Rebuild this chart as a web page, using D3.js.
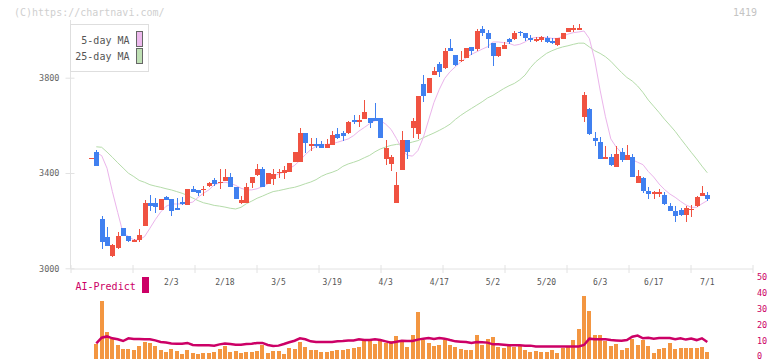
<!DOCTYPE html>
<html lang="ja">
<head>
  <meta charset="utf-8">
  <title>1419 chart</title>
  <script src="https://d3js.org/d3.v7.min.js"></script>
  <style>
    body { margin: 0; background: #fff; }
    svg text { font-family: "DejaVu Sans Mono", monospace; }
  </style>
</head>
<body>
<div id="chart"></div>

<script>
"use strict"

// trading days shown (1/10 .. 7/1)
var dates = ["1/10","1/14","1/15","1/16","1/17","1/20","1/21","1/22","1/23","1/24","1/27","1/28","1/29","1/30","1/31",
  "2/3","2/4","2/5","2/6","2/7","2/10","2/12","2/13","2/14","2/17","2/18","2/19","2/20","2/21","2/25","2/26","2/27","2/28",
  "3/3","3/4","3/5","3/6","3/7","3/10","3/11","3/12","3/13","3/14","3/17","3/18","3/19","3/21","3/24","3/25","3/26","3/27","3/28","3/31",
  "4/1","4/2","4/3","4/4","4/7","4/8","4/9","4/10","4/11","4/14","4/15","4/16","4/17","4/18","4/21","4/22","4/23","4/24","4/25","4/28","4/30",
  "5/1","5/2","5/7","5/8","5/9","5/12","5/13","5/14","5/15","5/16","5/19","5/20","5/21","5/22","5/23","5/26","5/27","5/28","5/29","5/30",
  "6/2","6/3","6/4","6/5","6/6","6/9","6/10","6/11","6/12","6/13","6/16","6/17","6/18","6/19","6/20","6/23","6/24","6/25","6/26","6/27","6/30",
  "7/1"];

var dateLabels = ["2/3","2/18","3/5","3/19","4/3","4/17","5/2","5/20","6/3","6/17","7/1"];

// one row per month
var open = [3463,3488,3207,3131,3053,3084,3169,3136,3112,3120,3179,3275,3275,3245,3301,
  3291,3254,3280,3266,3331,3329,3329,3347,3371,3359,3368,3385,3342,3273,3275,3359,3391,3417,
  3352,3375,3403,3401,3406,3447,3447,3566,3519,3522,3522,3506,3517,3563,3569,3569,3624,3615,3628,3631,
  3631,3631,3460,3439,3275,3414,3538,3590,3565,3773,3734,3811,3859,3839,3924,3896,3872,3884,3930,3920,4004,
  3986,3947,3891,3920,3962,3962,3993,3986,3965,3959,3958,3965,3955,3937,3962,3993,4006,4006,3636,3668,
  3548,3530,3465,3467,3427,3488,3456,3467,3359,3378,3324,3318,3317,3308,3261,3241,3245,3224,3248,3261,3305,
  3308];
var high = [3464,3496,3218,3173,3102,3152,3169,3136,3122,3165,3287,3309,3296,3291,3305,
  3291,3296,3301,3333,3347,3329,3347,3364,3380,3418,3417,3398,3342,3305,3356,3385,3438,3427,
  3399,3417,3417,3431,3443,3490,3590,3566,3547,3547,3533,3543,3576,3587,3578,3618,3643,3643,3706,3631,
  3692,3631,3538,3475,3403,3576,3538,3631,3723,3811,3798,3845,3866,3923,3962,3896,3912,3924,3930,4004,4018,
  4000,3947,3930,3948,3968,3997,3997,3986,3979,3972,3975,3975,3965,3965,3986,4007,4021,4025,3741,3674,
  3571,3552,3513,3480,3513,3506,3517,3480,3413,3382,3342,3326,3333,3322,3273,3261,3252,3263,3266,3303,3345,
  3319];
var low = [3463,3430,3081,3095,3049,3081,3137,3112,3109,3109,3179,3242,3233,3245,3285,
  3221,3246,3266,3266,3319,3305,3305,3342,3347,3333,3368,3342,3291,3268,3275,3338,3387,3342,
  3352,3351,3377,3373,3406,3447,3447,3485,3494,3506,3503,3503,3517,3543,3536,3565,3605,3594,3628,3590,
  3620,3546,3435,3410,3273,3414,3457,3548,3541,3699,3734,3811,3804,3836,3913,3850,3864,3884,3895,3913,3976,
  3923,3850,3888,3920,3941,3958,3976,3955,3951,3948,3951,3947,3940,3934,3962,3993,3993,4004,3615,3559,
  3515,3460,3464,3431,3427,3447,3456,3385,3357,3317,3292,3292,3301,3266,3241,3196,3220,3196,3217,3259,3305,
  3282];
var close = [3464,3430,3112,3095,3098,3136,3137,3116,3119,3140,3275,3263,3259,3291,3287,
  3242,3246,3271,3333,3319,3315,3333,3359,3354,3364,3385,3342,3291,3287,3342,3385,3417,3342,
  3399,3396,3406,3413,3443,3488,3566,3527,3521,3513,3506,3522,3559,3548,3557,3615,3615,3624,3656,3611,
  3620,3548,3505,3468,3350,3538,3489,3618,3723,3724,3798,3828,3825,3912,3913,3853,3875,3924,3913,3996,3989,
  3962,3892,3927,3937,3948,3989,3986,3965,3958,3961,3969,3951,3947,3965,3986,4007,4008,4008,3727,3563,
  3536,3460,3467,3435,3480,3456,3475,3385,3387,3324,3312,3320,3319,3271,3241,3220,3224,3252,3250,3301,3317,
  3291];

var ma5 = [null,3485,3473,3420,3322,3234,3147,3134,3119,3120,3133,3168,3204,3236,3260,
  3270,3270,3270,3273,3278,3298,3315,3329,3350,3359,3361,3357,3348,3336,3329,3329,3334,3343,
  3354,3387,3396,3404,3418,3432,3453,3477,3498,3512,3516,3520,3523,3529,3536,3543,3557,3576,3591,3607,
  3620,3620,3605,3583,3545,3503,3474,3471,3494,3548,3622,3696,3751,3797,3825,3846,3866,3884,3898,3909,3920,
  3930,3950,3950,3947,3944,3936,3940,3950,3965,3969,3969,3969,3965,3965,3973,3983,3989,3992,3996,3964,
  3874,3748,3636,3543,3509,3485,3470,3456,3445,3435,3406,3383,3354,3331,3312,3298,3281,3266,3256,3256,3271,
  3284];
var ma25 = [null,3510,3508,3488,3466,3443,3421,3399,3385,3369,3361,3351,3345,3340,3334,
  3329,3322,3315,3306,3295,3284,3275,3270,3264,3261,3257,3252,3249,3256,3271,3282,3294,3303,
  3313,3322,3326,3331,3336,3340,3347,3355,3362,3372,3386,3396,3403,3412,3428,3438,3445,3453,3464,3474,
  3489,3501,3509,3516,3520,3522,3524,3530,3536,3548,3558,3568,3579,3591,3605,3625,3642,3657,3671,3685,3699,
  3715,3726,3740,3754,3766,3776,3791,3811,3842,3867,3885,3902,3913,3922,3929,3934,3940,3945,3945,3929,
  3913,3902,3888,3869,3845,3822,3801,3786,3765,3738,3706,3680,3654,3626,3601,3575,3545,3516,3487,3459,3429,
  3401];

// volume (drawn on the right-hand scale) and AI-Predict line
var volume = [null,8.4,35.9,16.2,11.6,8.0,5.5,5.5,4.8,7.4,10.1,9.3,7.4,4.8,3.6,
  5.5,4.2,2.3,4.8,3.0,2.3,3.0,3.0,3.6,5.5,7.4,3.6,4.2,3.0,3.6,3.6,4.2,8.0,
  3.0,4.2,4.2,2.3,6.1,5.5,9.9,6.7,4.8,4.8,3.6,3.6,4.2,4.8,4.8,5.5,6.1,6.7,10.5,10.5,
  8.6,10.5,9.5,10.5,13.7,10.1,6.5,14.1,28.8,11.1,9.0,7.4,8.0,11.4,8.0,6.5,5.3,4.8,4.8,14.1,8.0,
  11.8,13.0,6.5,5.9,7.4,6.5,7.4,4.8,3.8,4.2,3.6,3.6,4.8,3.0,6.1,6.9,11.1,18.1,39.1,29.4,
  14.1,14.1,10.3,7.6,8.6,4.8,6.1,11.8,8.0,11.1,7.4,3.0,5.7,6.1,9.0,5.5,6.1,6.1,6.1,6.1,6.7,
  3.6];
var aiPredict = [null,9.0,12.6,13.4,12.2,11.6,10.5,12.2,11.8,11.8,11.6,11.6,10.9,9.9,9.5,
  9.0,8.8,8.8,9.3,8.0,7.8,7.8,7.8,7.6,8.4,9.0,8.6,8.2,8.2,8.6,8.8,9.3,9.3,
  8.0,7.4,7.6,8.6,9.7,10.7,12.2,11.6,10.3,9.9,9.9,9.9,9.9,10.3,10.5,10.9,10.9,11.6,11.1,11.1,
  11.6,11.1,10.3,9.5,10.1,10.7,10.5,10.5,11.4,12.0,12.4,11.8,12.4,12.0,11.1,10.3,10.1,9.9,9.3,9.9,9.7,
  9.5,8.4,8.4,8.2,7.8,7.8,7.8,7.6,7.6,7.1,7.1,7.1,7.1,7.1,7.1,7.1,7.1,7.1,8.0,12.0,
  11.6,11.6,11.6,11.1,10.9,10.7,11.1,13.2,13.9,12.2,12.6,12.0,12.4,12.4,12.4,11.6,12.2,11.4,12.0,11.1,12.2,
  9.9];

var W = 772, H = 361;
var RED = "#f05241", BLUE = "#4080f0", MAGENTA = "#cc0066";

var svg = d3.select("#chart").append("svg")
  .attr("width", W).attr("height", H)
  .style("display", "block");

// scales
var x = d3.scalePoint().domain(dates).range([90.94, 707.3]);
var y = d3.scaleLinear().domain([3000, 3800]).range([268.3, 77.7]);
var yv = d3.scaleLinear().domain([0, 50]).range([357.7, 278.3]);
var frame = d3.scaleLinear().domain([0, 11]).range([70.5, 752.5]);

var rows = dates.map(function(d, i) {
  return {date: d, o: open[i], h: high[i], l: low[i], c: close[i],
          ma5: ma5[i], ma25: ma25[i], vol: volume[i], ai: aiPredict[i]};
});

// watermark and code
svg.append("text").attr("x", 14).attr("y", 16)
  .style("font-size", "10px").style("fill", "#cfcfcf")
  .text("(C)https://chartnavi.com/");
svg.append("text").attr("x", 757).attr("y", 16).attr("text-anchor", "end")
  .style("font-size", "10px").style("fill", "#c4c4c4")
  .text("1419");

// y axis (price)
svg.append("line").attr("x1", 70.5).attr("x2", 70.5).attr("y1", 20).attr("y2", 269)
  .style("stroke", "#e2e2e2");
var yAxis = svg.append("g").attr("transform", "translate(70.5,0)")
  .call(d3.axisLeft(y).tickValues([3000, 3400, 3800]).tickSize(5).tickPadding(6).tickFormat(d3.format("d")));
yAxis.select(".domain").remove();
yAxis.selectAll(".tick line").attr("x1", 4).attr("x2", -5).style("stroke", "#e2e2e2");
yAxis.selectAll(".tick text").style("font-size", "8.5px").style("fill", "#666")
  .style("font-family", "DejaVu Sans Mono, monospace");

// x axis frame with fixed tick spacing
var xAxis = svg.append("g").attr("transform", "translate(0,268.5)")
  .call(d3.axisBottom(frame).tickValues(d3.range(0, 12)).tickFormat("").tickSize(4).tickSizeOuter(0));
xAxis.select(".domain").style("stroke", "#e2e2e2");
xAxis.selectAll(".tick line").attr("y1", -3.5).attr("y2", 4.5).style("stroke", "#e2e2e2");

// date labels
svg.append("g").selectAll("text").data(dateLabels).enter().append("text")
  .attr("x", function(d) { return x(d); })
  .attr("y", 285)
  .attr("text-anchor", "middle")
  .style("font-size", "8px").style("fill", "#555")
  .text(function(d) { return d; });

// moving averages
var line = function(key) {
  return d3.line().defined(function(d) { return d[key] != null; })
    .x(function(d) { return x(d.date); })
    .y(function(d) { return y(d[key]); });
};
svg.append("path").datum(rows).attr("d", line("ma25"))
  .style("fill", "none").style("stroke", "#b5dcaa").style("stroke-width", 1);
svg.append("path").datum(rows).attr("d", line("ma5"))
  .style("fill", "none").style("stroke", "#ebb4eb").style("stroke-width", 1);

// candles
var candle = svg.append("g").selectAll("g").data(rows).enter().append("g")
  .style("shape-rendering", "crispEdges");
candle.append("line")
  .attr("x1", function(d) { return Math.round(x(d.date)) + 0.5; })
  .attr("x2", function(d) { return Math.round(x(d.date)) + 0.5; })
  .attr("y1", function(d) { return y(d.h); })
  .attr("y2", function(d) { return y(d.l); })
  .style("stroke", function(d) { return d.c >= d.o ? RED : BLUE; });
candle.append("rect")
  .attr("x", function(d) { return Math.round(x(d.date)) - 2; })
  .attr("width", 5)
  .attr("y", function(d) { return y(Math.max(d.o, d.c)); })
  .attr("height", function(d) { return Math.max(1.5, Math.abs(y(d.o) - y(d.c))); })
  .style("fill", function(d) { return d.c >= d.o ? RED : BLUE; });

// legend
var legend = svg.append("g");
legend.append("rect").attr("x", 70.5).attr("y", 24.5).attr("width", 78).attr("height", 47)
  .style("fill", "#fff").style("stroke", "#dedede");
var legendItems = [{name: "5-day MA", color: "#edb9ed"}, {name: "25-day MA", color: "#bfe0b4"}];
legendItems.forEach(function(item, i) {
  legend.append("text").attr("x", 129.5).attr("y", 44 + i * 16).attr("text-anchor", "end")
    .style("font-size", "10px").style("fill", "#555").text(item.name);
  legend.append("rect").attr("x", 136.5).attr("y", 31.5 + i * 17).attr("width", 6).attr("height", 15)
    .style("fill", item.color).style("stroke", "#666");
});

// lower panel: volume bars + AI-Predict
svg.append("g").selectAll("rect").data(rows.filter(function(d) { return d.vol != null; }))
  .enter().append("rect")
  .attr("x", function(d) { return Math.round(x(d.date)) - 2; })
  .attr("width", 4)
  .attr("y", function(d) { return yv(d.vol); })
  .attr("height", function(d) { return yv(0) - yv(d.vol) + 1.3; })
  .style("fill", "#f39641")
  .style("shape-rendering", "crispEdges");

svg.append("path").datum(rows)
  .attr("d", d3.line().defined(function(d) { return d.ai != null; })
    .x(function(d) { return x(d.date); })
    .y(function(d) { return yv(d.ai); }))
  .style("fill", "none").style("stroke", MAGENTA).style("stroke-width", 2.5);

var rAxis = svg.append("g").attr("transform", "translate(752,0)")
  .call(d3.axisRight(yv).tickValues([0, 10, 20, 30, 40, 50]).tickSize(0).tickPadding(5));
rAxis.select(".domain").remove();
rAxis.selectAll(".tick text").attr("dy", "0.15em").style("font-size", "8.5px").style("fill", MAGENTA)
  .style("font-family", "DejaVu Sans Mono, monospace");

svg.append("text").attr("x", 75.5).attr("y", 290)
  .style("font-size", "10px").style("fill", MAGENTA).text("AI-Predict");
svg.append("rect").attr("x", 142).attr("y", 277).attr("width", 7).attr("height", 16)
  .style("fill", MAGENTA);
</script>
</body>
</html>
